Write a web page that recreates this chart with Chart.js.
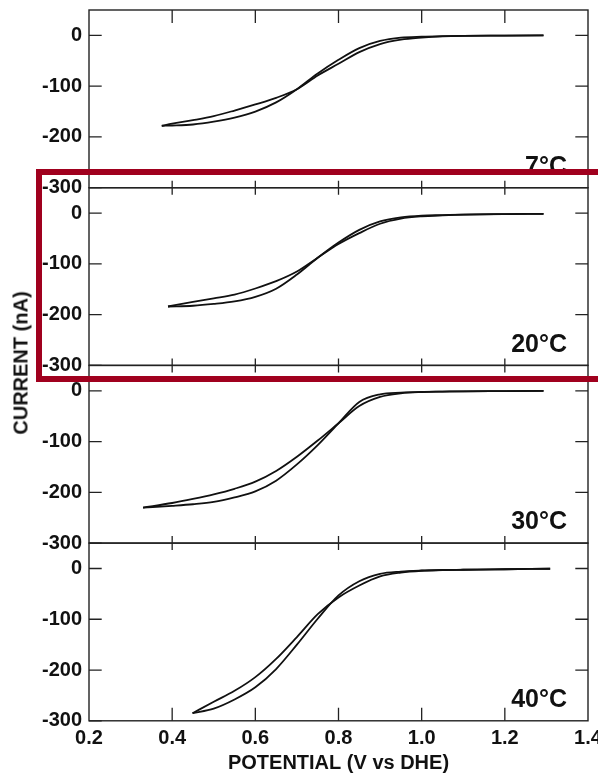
<!DOCTYPE html>
<html>
<head>
<meta charset="utf-8">
<script src="https://cdn.jsdelivr.net/npm/chart.js@4.4.1/dist/chart.umd.min.js"></script>
<style>
    html, body { margin: 0; padding: 0; background: #fff; overflow: hidden; }
    #wrap { position: relative; width: 598px; height: 773px; }
    #wrap canvas { position: absolute; left: 0; top: 0; }
    #yTitle {
        position: absolute; left: 21px; top: 363px;
        transform: translate(-50%, -50%) rotate(-90deg);
        font: bold 20px "Liberation Sans", Arial, sans-serif;
        color: #111; white-space: nowrap;
    }
    #highlight {
        position: absolute; left: 36px; top: 169px; width: 600px; height: 213px;
        border: 6px solid #a0001e; box-sizing: border-box; z-index: 5;
    }
</style>
</head>
<body>
<div id="wrap">
    <canvas id="panel0" width="598" height="773"></canvas>
    <canvas id="panel1" width="598" height="773"></canvas>
    <canvas id="panel2" width="598" height="773"></canvas>
    <canvas id="panel3" width="598" height="773"></canvas>
    <div id="yTitle">CURRENT (nA)</div>
    <div id="highlight"></div>
</div>
<script>
// axis ticks
const xTickValues = [0.2, 0.4, 0.6, 0.8, 1.0, 1.2, 1.4];
const yTickValues = [0, -100, -200, -300];
const panelLabels = ['7°C', '20°C', '30°C', '40°C'];

// 7 °C : potential (V) and current (nA) of both sweep branches
const potential7 = [0.375, 0.40, 0.45, 0.50, 0.55, 0.60, 0.65, 0.70, 0.75, 0.80, 0.85, 0.90, 0.95, 1.00, 1.05, 1.10, 1.20, 1.293];
const sweepA7 = [-178, -177.5, -175.5, -170, -162, -150, -132, -106, -75, -48, -25, -11, -4.5, -2.5, -1.5, -1, -0.5, 0];
const sweepB7 = [-178, -174, -167, -159, -148, -136, -123, -106, -79, -56, -33, -17, -8.5, -4.5, -2, -1, -0.5, 0];

// 20 °C
const potential20 = [0.39, 0.45, 0.50, 0.55, 0.60, 0.65, 0.70, 0.75, 0.80, 0.85, 0.90, 0.95, 1.00, 1.05, 1.10, 1.20, 1.293];
const sweepA20 = [-184, -182.5, -179, -174, -165, -149, -121, -88, -58, -33, -16.5, -8.5, -5, -4, -3, -2, -1.5];
const sweepB20 = [-184, -175, -168, -160.5, -148.5, -134, -115, -88, -61, -39.5, -21, -11, -6.5, -4.5, -3, -2, -1.5];

// 30 °C
const potential30 = [0.33, 0.40, 0.45, 0.50, 0.55, 0.60, 0.65, 0.70, 0.75, 0.80, 0.85, 0.90, 0.95, 1.00, 1.05, 1.10, 1.20, 1.293];
const sweepA30 = [-230, -226.5, -223.5, -219, -210, -198, -177, -145, -107, -64, -22, -7, -3.5, -2, -1.5, -1, -0.5, 0];
const sweepB30 = [-230, -221, -213, -204, -193, -179, -158, -130, -98, -64, -30, -12, -5, -2.5, -1.5, -1, -0.5, 0];

// 40 °C
const potential40 = [0.449, 0.50, 0.55, 0.60, 0.65, 0.70, 0.75, 0.80, 0.85, 0.90, 0.95, 1.00, 1.05, 1.10, 1.20, 1.309];
const sweepA40 = [-285, -276, -258, -234, -198, -150, -99, -53, -25, -10.5, -6, -4, -3, -2.5, -1.5, -0.5];
const sweepB40 = [-285, -262.5, -241, -214, -178, -135, -90, -57, -33.5, -15.5, -8, -4.5, -3.2, -2.5, -1.5, -0.5];

const panels = [
    { potential: potential7, a: sweepA7, b: sweepB7 },
    { potential: potential20, a: sweepA20, b: sweepB20 },
    { potential: potential30, a: sweepA30, b: sweepB30 },
    { potential: potential40, a: sweepA40, b: sweepB40 }
];

const FONT = '"Liberation Sans", Arial, sans-serif';
const INK = '#111';
const plotTop = 10, plotBottom = 720.8, canvasH = 773;
const panelH = (plotBottom - plotTop) / panels.length;

const toPoints = (xs, ys) => xs.map((v, i) => ({ x: v, y: ys[i] }));

// frame, inward ticks and temperature label for each panel
const framePlugin = {
    id: 'frame',
    afterDraw(chart, args, opts) {
        const { ctx, chartArea: a, scales: { x, y } } = chart;
        ctx.save();
        ctx.strokeStyle = '#222';
        ctx.lineWidth = 1.4;
        ctx.strokeRect(a.left, a.top, a.right - a.left, a.bottom - a.top);
        ctx.lineWidth = 1.3;
        ctx.beginPath();
        xTickValues.slice(1, -1).forEach(v => {
            const px = x.getPixelForValue(v);
            ctx.moveTo(px, a.top); ctx.lineTo(px, a.top + opts.topLen);
            ctx.moveTo(px, a.bottom); ctx.lineTo(px, a.bottom - opts.bottomLen);
        });
        yTickValues.forEach(v => {
            const py = y.getPixelForValue(v);
            ctx.moveTo(a.left, py); ctx.lineTo(a.left + 12.7, py);
            if (v > -300) { ctx.moveTo(a.right, py); ctx.lineTo(a.right - 12.7, py); }
        });
        ctx.stroke();
        ctx.fillStyle = INK;
        ctx.font = 'bold 25px ' + FONT;
        ctx.textAlign = 'right';
        ctx.textBaseline = 'alphabetic';
        ctx.fillText(opts.label, a.right - 21, a.bottom - 13.7);
        ctx.restore();
    }
};

panels.forEach((p, i) => {
    const isBottom = i === panels.length - 1;
    const top = plotTop + i * panelH;
    const bottom = top + panelH;
    const lineStyle = {
        showLine: true, pointRadius: 0, borderColor: INK, borderWidth: 1.8,
        cubicInterpolationMode: 'monotone', fill: false
    };
    new Chart(document.getElementById('panel' + i), {
        type: 'scatter',
        data: {
            datasets: [
                Object.assign({ data: toPoints(p.potential, p.a) }, lineStyle),
                Object.assign({ data: toPoints(p.potential, p.b) }, lineStyle)
            ]
        },
        options: {
            responsive: false,
            animation: false,
            events: [],
            layout: {
                padding: { left: 0, right: 10, top: top, bottom: isBottom ? 0 : canvasH - bottom }
            },
            plugins: {
                legend: { display: false },
                tooltip: { enabled: false },
                frame: {
                    label: panelLabels[i],
                    topLen: i === 0 ? 13 : 7,
                    bottomLen: isBottom ? 13 : 7
                }
            },
            scales: {
                x: {
                    type: 'linear', min: 0.2, max: 1.4,
                    display: isBottom,
                    grid: { display: false, drawTicks: false },
                    border: { display: false },
                    ticks: {
                        color: INK, padding: 6,
                        font: { family: FONT, size: 20, weight: 'bold' },
                        callback: v => v.toFixed(1)
                    },
                    title: {
                        display: true, text: 'POTENTIAL (V vs DHE)', color: INK,
                        font: { family: FONT, size: 20, weight: 'bold', lineHeight: 1 },
                        padding: { top: 0, bottom: 0 }
                    },
                    afterBuildTicks: s => { s.ticks = xTickValues.map(v => ({ value: v })); },
                    afterFit: s => {
                        if (isBottom) s.height = canvasH - plotBottom;
                        s.paddingLeft = 0; s.paddingRight = 0;
                    }
                },
                y: {
                    min: -300, max: 50,
                    grid: { display: false, drawTicks: false },
                    border: { display: false },
                    ticks: {
                        color: INK, padding: 7,
                        font: { family: FONT, size: 20, weight: 'bold' }
                    },
                    afterBuildTicks: s => { s.ticks = yTickValues.map(v => ({ value: v })); },
                    afterFit: s => { s.width = 89; s.paddingTop = 0; s.paddingBottom = 0; }
                }
            }
        },
        plugins: [framePlugin]
    });
});
</script>
</body>
</html>
